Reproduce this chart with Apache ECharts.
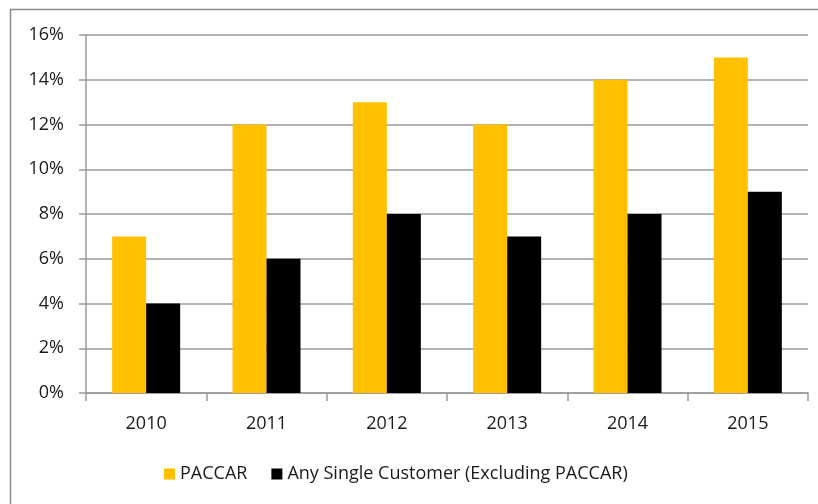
<!DOCTYPE html>
<html><head><meta charset="utf-8">
<script src="https://cdn.jsdelivr.net/npm/echarts@6/dist/echarts.min.js"></script>
<style>html,body{margin:0;padding:0;background:#fff}#c{width:818px;height:504px}</style>
</head><body><div id="c"></div>
<script>
const years = ['2010','2011','2012','2013','2014','2015'];
const paccar = [0.07,0.12,0.13,0.12,0.14,0.15];
const anySingle = [0.04,0.06,0.08,0.07,0.08,0.09];
const seriesNames = ['PACCAR','Any Single Customer (Excluding PACCAR)'];
const FONT = 'Open Sans';
const chart = echarts.init(document.getElementById('c'));
chart.setOption({
  animation:false,
  backgroundColor:'#fff',
  textStyle:{fontFamily:FONT},
  graphic:[{type:'rect',shape:{x:10.5,y:9.5,width:830,height:520},style:{fill:'none',stroke:'#8c8c8c',lineWidth:1.5},silent:true}],
  grid:{left:86,right:10,top:35,bottom:111},
  legend:{bottom:16,left:159,itemWidth:11,itemHeight:11,itemGap:24,icon:'rect',
    textStyle:{fontFamily:FONT,fontSize:18,color:'#1a1a1a'},data:seriesNames},
  xAxis:{type:'category',data:years,
    axisLine:{lineStyle:{color:'#9a9a9a',width:1.5}},
    axisTick:{show:true,length:8,lineStyle:{color:'#9a9a9a',width:1.5}},
    axisLabel:{fontFamily:FONT,fontSize:18,color:'#1a1a1a',margin:22}},
  yAxis:{type:'value',min:0,max:0.16,interval:0.02,
    axisLine:{show:true,lineStyle:{color:'#9a9a9a',width:1.5}},
    axisTick:{show:true,length:7,lineStyle:{color:'#9a9a9a',width:1.5}},
    splitLine:{lineStyle:{color:'#9a9a9a',width:1.5}},
    axisLabel:{fontFamily:FONT,fontSize:18,color:'#1a1a1a',margin:22,formatter:v=>Math.round(v*100)+'%'}},
  series:[
    {name:seriesNames[0],type:'bar',data:paccar,barWidth:34,barGap:'0%',itemStyle:{color:'#FFC000'}},
    {name:seriesNames[1],type:'bar',data:anySingle,barWidth:34,barGap:'0%',itemStyle:{color:'#000000'}}
  ]
});
</script></body></html>
